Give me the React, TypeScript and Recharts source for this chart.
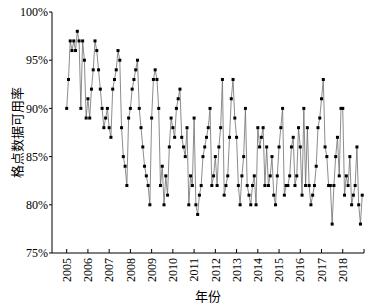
import { Label, Line, LineChart, XAxis, YAxis } from "recharts"

// years shown on the x axis, one tick per January
const years = [2005, 2006, 2007, 2008, 2009, 2010, 2011, 2012, 2013, 2014, 2015, 2016, 2017, 2018]

// monthly availability of grid data (%), one row per year
const monthlyRate = [
  90, 93, 97, 96, 97, 96, 98, 97, 90, 97, 95, 89, // 2005
  91, 89, 92, 94, 97, 96, 94, 92, 90, 88, 89, 90, // 2006
  88, 87, 92, 93, 94, 96, 95, 88, 85, 84, 82, 89, // 2007
  90, 92, 93, 94, 95, 90, 88, 86, 84, 83, 82, 80, // 2008
  89, 93, 94, 93, 90, 82, 84, 80, 83, 81, 86, 89, // 2009
  88, 87, 90, 91, 92, 87, 86, 85, 88, 80, 83, 82, // 2010
  89, 80, 79, 81, 82, 85, 86, 87, 88, 90, 82, 83, // 2011
  85, 82, 86, 88, 93, 81, 82, 83, 87, 91, 93, 89, // 2012
  87, 82, 80, 83, 85, 90, 82, 81, 80, 82, 83, 80, // 2013
  88, 86, 87, 88, 82, 86, 82, 83, 85, 81, 80, 83, // 2014
  86, 88, 90, 81, 82, 82, 83, 86, 87, 82, 83, 88, // 2015
  86, 81, 90, 82, 88, 82, 80, 81, 82, 84, 88, 89, // 2016
  91, 93, 86, 85, 82, 82, 78, 82, 85, 87, 83, 90, // 2017
  90, 81, 83, 82, 85, 80, 81, 82, 86, 80, 78, 81, // 2018
]

const yTicks = [75, 80, 85, 90, 95, 100]

const data = monthlyRate.map((rate, month) => ({ month, rate }))
const xTicks = [...years.map((_, i) => i * 12), years.length * 12]

const serif = "'Liberation Serif', 'Times New Roman', 'Noto Sans CJK SC', serif"

function SquareDot(props: any) {
  const { cx, cy } = props
  if (cx == null || cy == null) return null
  return <rect x={cx - 1.5} y={cy - 1.5} width={3} height={3} fill="#000" />
}

function YearTick(props: any) {
  const { x, y, payload } = props
  const i = Math.round(payload.value / 12)
  const label = i < years.length ? String(years[i]) : ""
  return (
    <text
      x={x}
      y={y}
      transform={`rotate(-90, ${x}, ${y})`}
      textAnchor="end"
      dy="0.35em"
      fontSize={12}
      fontFamily={serif}
      fill="#000"
    >
      {label}
    </text>
  )
}

export default function App() {
  return (
    <div style={{ position: "absolute", left: 0, top: 0, width: 375, height: 306, background: "#fff" }}>
      <LineChart width={375} height={306} data={data} margin={{ top: 12, right: 11, left: 0, bottom: 0 }}>
        <XAxis
          dataKey="month"
          type="number"
          domain={[-8.3, 168]}
          ticks={xTicks}
          interval={0}
          height={53}
          tickSize={-4}
          tickMargin={9}
          tick={<YearTick />}
          axisLine={{ stroke: "#000" }}
          tickLine={{ stroke: "#000" }}
        >
          <Label
            content={(p: any) => {
              const vb = p.viewBox
              const cx = vb.x + vb.width / 2
              return (
                <text x={cx} y={301} textAnchor="middle" fontSize={13} fontFamily={serif} fill="#000">
                  年份
                </text>
              )
            }}
          />
        </XAxis>
        <YAxis
          type="number"
          domain={[75, 100]}
          ticks={yTicks}
          interval={0}
          width={52}
          tickSize={3}
          tickMargin={1}
          tickFormatter={(v) => `${v}%`}
          tick={{ fontSize: 12, fontFamily: serif, fill: "#000" }}
          axisLine={{ stroke: "#000" }}
          tickLine={{ stroke: "#000" }}
        >
          <Label
            content={(p: any) => {
              const vb = p.viewBox
              const cx = vb.x + 17.5
              const cy = vb.y + vb.height / 2
              return (
                <text
                  x={cx}
                  y={cy}
                  transform={`rotate(-90, ${cx}, ${cy})`}
                  textAnchor="middle"
                  dy="0.35em"
                  fontSize={13}
                  fontFamily={serif}
                  fill="#000"
                >
                  格点数据可用率
                </text>
              )
            }}
          />
        </YAxis>
        <Line
          type="linear"
          dataKey="rate"
          stroke="#6e6e6e"
          strokeWidth={0.8}
          dot={<SquareDot />}
          activeDot={false}
          isAnimationActive={false}
        />
      </LineChart>
    </div>
  )
}
